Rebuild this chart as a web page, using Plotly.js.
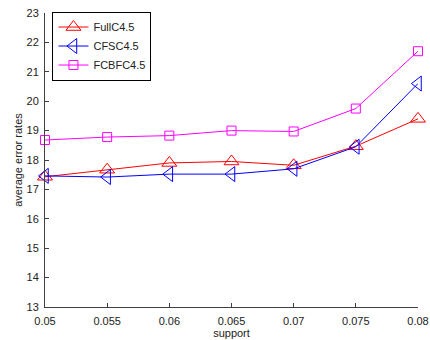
<!DOCTYPE html>
<html>
<head>
<meta charset="utf-8">
<script src="https://cdn.plot.ly/plotly-3.0.1.min.js"></script>
<style>html,body{margin:0;padding:0;background:#fff}#chart{width:430px;height:340px}</style>
</head>
<body>
<div id="chart"></div>
<script>
// support thresholds on the x axis
const support = [0.05, 0.055, 0.06, 0.065, 0.07, 0.075, 0.08];
// average error rates for each classifier
const fullC45 = [17.43, 17.67, 17.9, 17.95, 17.82, 18.47, 19.4];
const cfsC45 = [17.46, 17.42, 17.52, 17.52, 17.7, 18.45, 20.6];
const fcbfC45 = [18.68, 18.78, 18.83, 19.0, 18.97, 19.75, 21.7];
const xTicks = [0.05, 0.055, 0.06, 0.065, 0.07, 0.075, 0.08];
const xTickText = ['0.05', '0.055', '0.06', '0.065', '0.07', '0.075', '0.08'];
const yTicks = [13, 14, 15, 16, 17, 18, 19, 20, 21, 22, 23];

const FONT = 'Liberation Sans, Arial, sans-serif';

function series(name, y, color, symbol, size) {
  return {
    x: support, y: y, name: name, type: 'scatter', mode: 'lines+markers',
    cliponaxis: false,
    line: {color: color, width: 1},
    marker: {symbol: symbol, size: size, color: color, line: {width: 1}}
  };
}

const data = [
  series('FullC4.5', fullC45, '#ff0000', 'triangle-up-open', 13),
  series('CFSC4.5', cfsC45, '#0000ff', 'triangle-left-open', 13),
  series('FCBFC4.5', fcbfC45, '#ff00ff', 'square-open', 9)
];

const axisCommon = {
  showgrid: false, zeroline: false, showline: true, linecolor: '#404040', linewidth: 1,
  ticks: 'inside', ticklen: 4, tickcolor: '#404040',
  tickfont: {family: FONT, size: 11, color: '#222'}
};

const layout = {
  width: 430, height: 340,
  margin: {l: 45, r: 12, t: 13, b: 33},
  paper_bgcolor: '#fff', plot_bgcolor: '#fff',
  showlegend: true,
  legend: {
    x: 0.02, y: 1.005, xanchor: 'left', yanchor: 'top',
    bgcolor: '#fff', bordercolor: '#000', borderwidth: 1,
    font: {family: FONT, size: 11, color: '#222'},
    tracegroupgap: 0, itemwidth: 30
  },
  xaxis: Object.assign({}, axisCommon, {
    range: [0.05, 0.08], tickvals: xTicks, ticktext: xTickText,
    ticklabelstandoff: 4,
    title: {text: 'support', standoff: 0, font: {family: FONT, size: 11, color: '#222'}}
  }),
  yaxis: Object.assign({}, axisCommon, {
    range: [13, 23], tickvals: yTicks,
    ticklabelstandoff: 3,
    title: {text: 'average error rates', standoff: 1, font: {family: FONT, size: 11, color: '#222'}}
  })
};

Plotly.newPlot('chart', data, layout, {displayModeBar: false, staticPlot: true});
</script>
</body>
</html>
